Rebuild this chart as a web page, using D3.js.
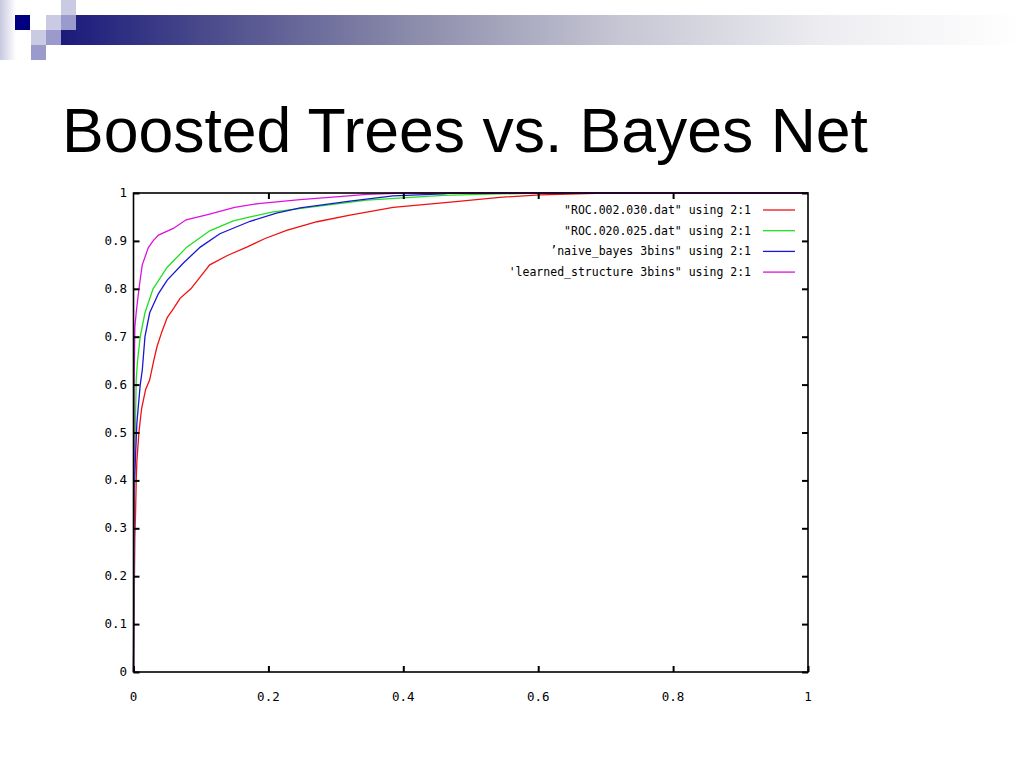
<!DOCTYPE html>
<html><head><meta charset="utf-8">
<script src="https://cdn.jsdelivr.net/npm/d3@7"></script>
<style>body{margin:0;background:#fff}svg{display:block}</style>
</head><body>
<svg id="c" width="1024" height="768"></svg>
<script>
// ---- data ----
const title = "Boosted Trees vs. Bayes Net";
const xTicks = [0, 0.2, 0.4, 0.6, 0.8, 1];
const yTicks = [0, 0.1, 0.2, 0.3, 0.4, 0.5, 0.6, 0.7, 0.8, 0.9, 1];
const seriesNames = [
  '"ROC.002.030.dat" using 2:1',
  '"ROC.020.025.dat" using 2:1',
  '\u2019naive_bayes 3bins" using 2:1',
  '\'learned_structure 3bins" using 2:1'
];
const seriesColors = ["#f01010", "#20e020", "#1818d0", "#e010e0"];
// [fpr, tpr]
const rocRed = [[0,0],[0.002,0.28],[0.003,0.33],[0.004,0.40],[0.005,0.44],[0.008,0.50],[0.012,0.55],[0.018,0.59],[0.024,0.61],[0.030,0.65],[0.035,0.68],[0.042,0.71],[0.050,0.74],[0.060,0.76],[0.069,0.78],[0.085,0.80],[0.099,0.825],[0.113,0.85],[0.140,0.87],[0.168,0.887],[0.195,0.905],[0.227,0.922],[0.272,0.940],[0.321,0.954],[0.385,0.970],[0.470,0.981],[0.543,0.991],[0.603,0.996],[0.70,1],[1,1]];
const rocGreen = [[0,0],[0.002,0.45],[0.004,0.61],[0.006,0.65],[0.010,0.70],[0.017,0.75],[0.029,0.80],[0.050,0.845],[0.079,0.887],[0.113,0.921],[0.148,0.942],[0.173,0.950],[0.205,0.960],[0.272,0.972],[0.346,0.985],[0.459,0.995],[0.543,0.998],[0.60,1],[1,1]];
const rocBlue = [[0,0],[0.001,0.38],[0.003,0.45],[0.005,0.52],[0.010,0.60],[0.013,0.63],[0.017,0.70],[0.024,0.75],[0.037,0.79],[0.050,0.818],[0.074,0.854],[0.099,0.887],[0.128,0.915],[0.173,0.941],[0.212,0.958],[0.247,0.969],[0.321,0.983],[0.385,0.994],[0.459,0.998],[0.47,1],[1,1]];
const rocMagenta = [[0,0],[0.001,0.61],[0.002,0.72],[0.004,0.75],[0.007,0.787],[0.010,0.82],[0.013,0.85],[0.022,0.886],[0.029,0.90],[0.037,0.912],[0.059,0.926],[0.078,0.944],[0.110,0.955],[0.150,0.970],[0.185,0.978],[0.247,0.986],[0.300,0.992],[0.346,0.997],[0.40,1],[1,1]];
const seriesData = [rocRed, rocGreen, rocBlue, rocMagenta];

// ---- drawing ----
const svg = d3.select("#c");
const defs = svg.append("defs");
const grad = defs.append("linearGradient").attr("id","bar").attr("x1","0").attr("x2","1").attr("y1","0").attr("y2","0");
[[0,"#1a1a7c"],[0.15,"#4a4a8c"],[0.36,"#8a8aaa"],[0.58,"#c6c6d4"],[0.8,"#eeeef2"],[1,"#ffffff"]].forEach(([o,c])=>grad.append("stop").attr("offset",o).attr("stop-color",c));
const vgrad = defs.append("linearGradient").attr("id","strip").attr("x1","0").attr("x2","1").attr("y1","0").attr("y2","0");
vgrad.append("stop").attr("offset",0).attr("stop-color","#c8c8e0");
vgrad.append("stop").attr("offset",1).attr("stop-color","#ffffff");

// header decoration
svg.append("rect").attr("x",0).attr("y",0).attr("width",16).attr("height",60).attr("fill","url(#strip)");
svg.append("rect").attr("x",61).attr("y",15).attr("width",963).attr("height",30).attr("fill","url(#bar)");
const sq = [[15,15,"#000080"],[46,15,"#cacae2"],[61,0,"#cacae2"],[61,15,"#9a9acc"],[31,30,"#cacae2"],[46,30,"#9a9acc"],[31,45,"#9a9acc"]];
svg.selectAll("rect.sq").data(sq).enter().append("rect").attr("class","sq")
  .attr("x",d=>d[0]).attr("y",d=>d[1]).attr("width",15).attr("height",15).attr("fill",d=>d[2]);

svg.append("text").attr("x",62).attr("y",152).attr("font-family","Liberation Sans, Arial, sans-serif")
  .attr("font-size",62.5).attr("fill","#000").text(title);

const x = d3.scaleLinear().domain([0,1]).range([133.5,808]);
const y = d3.scaleLinear().domain([0,1]).range([672,193]);
const tickFont = "DejaVu Sans Mono, monospace";

// curves
const line = d3.line().x(d=>x(d[0])).y(d=>y(d[1]));
svg.selectAll("path.roc").data(seriesData).enter().append("path").attr("class","roc")
  .attr("d",line).attr("fill","none").attr("stroke",(d,i)=>seriesColors[i]).attr("stroke-width",1.3);

// frame
svg.append("rect").attr("x",x(0)).attr("y",y(1)).attr("width",x(1)-x(0)).attr("height",y(0)-y(1))
  .attr("fill","none").attr("stroke","#000").attr("stroke-width",1.6);

// axes with inward ticks (mirrored)
const axB = d3.axisTop(x).tickValues(xTicks).tickSize(6).tickFormat("");
const axT = d3.axisBottom(x).tickValues(xTicks.slice(1,-1)).tickSize(6).tickFormat("");
const axL = d3.axisRight(y).tickValues(yTicks).tickSize(6).tickFormat("");
const axR = d3.axisLeft(y).tickValues(yTicks).tickSize(6).tickFormat("");
[[axB,`translate(0,${y(0)})`],[axT,`translate(0,${y(1)})`],[axL,`translate(${x(0)},0)`],[axR,`translate(${x(1)},0)`]].forEach(([a,t])=>{
  const g = svg.append("g").attr("transform",t).call(a);
  g.select(".domain").remove();
  g.selectAll("line").attr("stroke","#000").attr("stroke-width",2);
});

// tick labels
svg.selectAll("text.xl").data(xTicks).enter().append("text").attr("class","xl")
  .attr("x",d=>x(d)).attr("y",701).attr("text-anchor","middle").attr("font-family",tickFont).attr("font-size",12.5).attr("fill","#000")
  .text(d=>d3.format("~g")(d));
svg.selectAll("text.yl").data(yTicks).enter().append("text").attr("class","yl")
  .attr("x",127).attr("y",d=>y(d)+4).attr("text-anchor","end").attr("font-family",tickFont).attr("font-size",12.5).attr("fill","#000")
  .text(d=>d3.format("~g")(d));

// legend
const lg = svg.append("g");
seriesNames.forEach((n,i)=>{
  const yy = 210 + i*20.7;
  lg.append("text").attr("x",751).attr("y",yy+4).attr("text-anchor","end").attr("font-family",tickFont)
    .attr("font-size",11.5).attr("fill","#000").text(n);
  lg.append("line").attr("x1",763).attr("x2",795).attr("y1",yy).attr("y2",yy).attr("stroke",seriesColors[i]).attr("stroke-width",1.3);
});
</script>
</body></html>
